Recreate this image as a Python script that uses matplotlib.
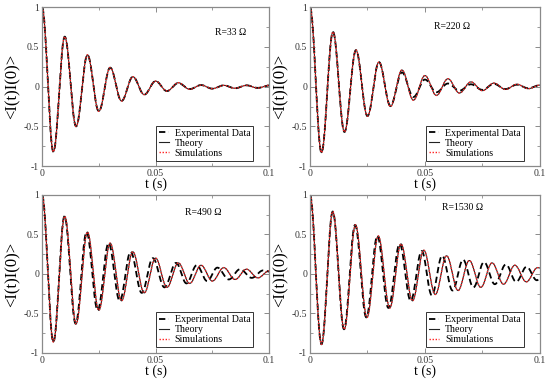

# damped current autocorrelation <I(t)I(0)> for four resistances

import numpy as np
import matplotlib
matplotlib.use("Agg")
import matplotlib.pyplot as plt
from matplotlib.ticker import MultipleLocator

## extrema (time, value)
## R = 33 ohm : all three curves lie on top of each other
t_sim_33 = [0, 0.005, 0.01, 0.015, 0.02, 0.025, 0.03, 0.035, 0.04, 0.045, 0.05,
            0.055, 0.06, 0.065, 0.07, 0.075, 0.08, 0.085, 0.09, 0.095, 0.1]
v_sim_33 = [1, -0.82, 0.63, -0.50, 0.40, -0.31, 0.24, -0.18, 0.125, -0.10, 0.07,
            -0.055, 0.05, -0.033, 0.02, -0.025, 0.017, -0.02, 0.017, -0.017, 0.017]
t_exp_33 = t_sim_33
v_exp_33 = [1, -0.82, 0.63, -0.50, 0.40, -0.31, 0.24, -0.18, 0.125, -0.10, 0.07,
            -0.055, 0.045, -0.03, 0.02, -0.025, 0.017, -0.02, 0.017, -0.015, 0.015]

## R = 220 ohm
t_sim_220 = t_sim_33
v_sim_220 = [1, -0.83, 0.69, -0.57, 0.46, -0.37, 0.31, -0.25, 0.21, -0.17, 0.14,
             -0.11, 0.10, -0.08, 0.06, -0.05, 0.045, -0.035, 0.03, -0.025, 0.02]
t_exp_220 = t_sim_33
v_exp_220 = [1, -0.83, 0.69, -0.57, 0.46, -0.37, 0.31, -0.24, 0.18, -0.13, 0.09,
             -0.07, 0.04, -0.05, 0.03, -0.04, 0.035, -0.03, 0.025, -0.02, 0.02]

## R = 490 ohm
t_sim_490 = t_sim_33
v_sim_490 = [1, -0.86, 0.73, -0.63, 0.53, -0.46, 0.39, -0.34, 0.28, -0.24, 0.20,
             -0.17, 0.14, -0.12, 0.11, -0.09, 0.08, -0.07, 0.06, -0.05, 0.04]
t_exp_490 = [0, 0.005, 0.0099, 0.0148, 0.0196, 0.0245, 0.0293, 0.0342, 0.039, 0.0439,
             0.0488, 0.0539, 0.059, 0.0636, 0.0681, 0.0727, 0.0772, 0.0822, 0.0872,
             0.0923, 0.0974, 0.1]
v_exp_490 = [1, -0.86, 0.73, -0.63, 0.53, -0.46, 0.39, -0.34, 0.28, -0.24, 0.20,
             -0.17, 0.14, -0.12, 0.11, -0.09, 0.08, -0.07, 0.06, -0.05, 0.045, 0.03]

## R = 1530 ohm
t_sim_1530 = [0, 0.005, 0.0099, 0.0149, 0.0198, 0.0248, 0.0297, 0.0347, 0.0396, 0.0446,
              0.0495, 0.0545, 0.0594, 0.0644, 0.0693, 0.0743, 0.0792, 0.0842, 0.0891,
              0.0941, 0.099, 0.1]
v_sim_1530 = [1, -0.89, 0.79, -0.70, 0.62, -0.55, 0.48, -0.43, 0.38, -0.34, 0.30,
              -0.26, 0.23, -0.21, 0.17, -0.17, 0.14, -0.13, 0.11, -0.10, 0.08, 0.075]
t_exp_1530 = [0, 0.005, 0.0099, 0.0148, 0.0196, 0.0245, 0.0293, 0.0341, 0.039, 0.0438,
              0.0486, 0.053, 0.0575, 0.062, 0.0666, 0.0711, 0.0757, 0.0804, 0.0852,
              0.0897, 0.0942, 0.0987, 0.1]
v_exp_1530 = [1, -0.89, 0.79, -0.70, 0.62, -0.55, 0.48, -0.43, 0.38, -0.34, 0.29,
              -0.27, 0.23, -0.21, 0.18, -0.17, 0.15, -0.13, 0.12, -0.10, 0.09, -0.08, -0.06]

labels = ["R=33 Ω", "R=220 Ω", "R=490 Ω", "R=1530 Ω"]
label_pos = [(0.83, 0.84), (0.62, 0.88), (0.71, 0.89), (0.665, 0.92)]
legend_names = ["Experimental Data", "Theory", "Simulations"]
xticks = [0, 0.05, 0.1]
xticklabels = ["0", "0.05", "0.1"]
yticks = [-1, -0.5, 0, 0.5, 1]
yticklabels = ["-1", "-0.5", "0", "0.5", "1"]

panels = [(t_exp_33, v_exp_33, t_sim_33, v_sim_33),
          (t_exp_220, v_exp_220, t_sim_220, v_sim_220),
          (t_exp_490, v_exp_490, t_sim_490, v_sim_490),
          (t_exp_1530, v_exp_1530, t_sim_1530, v_sim_1530)]

# axes boxes in figure fractions (left, bottom, width, height)
boxes = [(0.0764, 0.564, 0.413, 0.417), (0.5636, 0.564, 0.418, 0.417),
         (0.0764, 0.0735, 0.413, 0.415), (0.5636, 0.0735, 0.418, 0.415)]


def smooth(tk, vk, n=40):
    """join consecutive extrema with half-cosine arcs"""
    tt, vv = [], []
    for i in range(len(tk) - 1):
        s = np.linspace(0, 1, n, endpoint=False)
        tt.append(tk[i] + (tk[i + 1] - tk[i]) * s)
        vv.append(vk[i] + (vk[i + 1] - vk[i]) * (1 - np.cos(np.pi * s)) / 2)
    tt.append([tk[-1]])
    vv.append([vk[-1]])
    return np.concatenate(tt), np.concatenate(vv)


plt.rcParams['font.family'] = ['Liberation Serif', 'DejaVu Serif']
fig = plt.figure(figsize=(5.5, 3.81), dpi=100)
frameColor = '#8a8a8a'

for k in range(4):
    ax = fig.add_axes(boxes[k])
    te, ve, ts, vs = panels[k]
    xe, ye = smooth(te, ve)
    xs, ys = smooth(ts, vs)
    ## experimental: dashed black
    ax.plot(xe, ye, color='black', linewidth=1.3, linestyle=(0, (3.5, 2)),
            label=legend_names[0])
    ## theory: thin solid
    ax.plot(xs, ys, color='#222222', linewidth=0.8, label=legend_names[1])
    ## simulations: red dotted
    ax.plot(xs, ys, color='#ff2020', linewidth=1.0, linestyle=(0, (1, 1.2)),
            label=legend_names[2])

    ax.set_xlim(0, 0.1)
    ax.set_ylim(-1, 1)
    ax.set_xticks(xticks)
    ax.set_xticklabels(xticklabels)
    ax.set_yticks(yticks)
    ax.set_yticklabels(yticklabels)
    ax.xaxis.set_minor_locator(MultipleLocator(0.025))
    ax.yaxis.set_minor_locator(MultipleLocator(0.25))
    ax.tick_params(which='both', direction='in', top=True, right=True,
                   color=frameColor, labelsize=7, labelcolor='#333333', pad=2)
    ax.tick_params(which='major', length=3.5, width=0.7)
    ax.tick_params(which='minor', length=2, width=0.6)
    for sp in ax.spines.values():
        sp.set_color(frameColor)
        sp.set_linewidth(0.9)

    ax.set_xlabel("t (s)", fontsize=10, labelpad=0)
    ax.set_ylabel("<I(t)I(0)>", fontsize=12, labelpad=2)
    ax.text(label_pos[k][0], label_pos[k][1], labels[k], transform=ax.transAxes,
            ha='center', va='center', fontsize=7)

    leg = ax.legend(loc='lower right', bbox_to_anchor=(0.93, 0.035), fontsize=7.2,
                    frameon=True, fancybox=False, handlelength=1.0,
                    handletextpad=0.6, borderpad=0.3, labelspacing=0.1,
                    borderaxespad=0)
    leg.get_frame().set_edgecolor('black')
    leg.get_frame().set_linewidth(0.7)

fig.savefig('out.png', dpi=100)
